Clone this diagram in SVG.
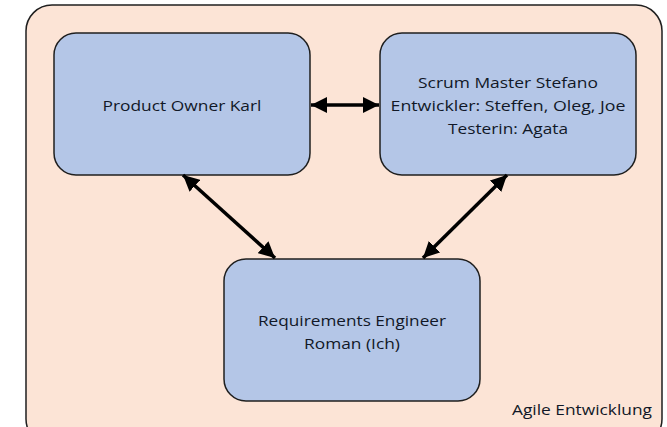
<svg xmlns="http://www.w3.org/2000/svg" width="667" height="427" viewBox="0 0 667 427">
<defs>
<marker id="ah" viewBox="0 0 10 10" refX="10" refY="5" markerWidth="4.6" markerHeight="4.6" orient="auto-start-reverse" markerUnits="strokeWidth">
<path d="M0,0 L10,5 L0,10 z" fill="#000"/>
</marker>
</defs>
<style>
.node{fill:#B4C6E7;stroke:#1f1f1f;stroke-width:1.5}
.t{font-family:"Open Sans","Liberation Sans",Arial,sans-serif;font-size:15px;fill:#111827;text-anchor:middle}
.c{stroke:#000;stroke-width:3.5;fill:none;marker-start:url(#ah);marker-end:url(#ah)}
</style>
<rect width="667" height="427" fill="#fff"/>
<g id="container">
<rect x="26" y="5" width="636" height="440" rx="26" fill="#FCE4D6" stroke="#1f1f1f" stroke-width="1.5"/>
<text x="652" y="415" class="t" style="text-anchor:end" textLength="140" lengthAdjust="spacingAndGlyphs">Agile Entwicklung</text>
</g>
<g id="po">
<rect class="node" x="54" y="33" width="256" height="142" rx="22"/>
<text class="t" x="182" y="111" textLength="159" lengthAdjust="spacingAndGlyphs">Product Owner Karl</text>
</g>
<g id="scrum">
<rect class="node" x="380" y="33" width="256" height="142" rx="22"/>
<text class="t" x="508" y="88" textLength="180" lengthAdjust="spacingAndGlyphs">Scrum Master Stefano</text>
<text class="t" x="508" y="111" textLength="235" lengthAdjust="spacingAndGlyphs">Entwickler: Steffen, Oleg, Joe</text>
<text class="t" x="508" y="134" textLength="120" lengthAdjust="spacingAndGlyphs">Testerin: Agata</text>
</g>
<g id="re">
<rect class="node" x="224" y="259" width="256" height="142" rx="22"/>
<text class="t" x="352" y="326" textLength="188" lengthAdjust="spacingAndGlyphs">Requirements Engineer</text>
<text class="t" x="352" y="349" textLength="96" lengthAdjust="spacingAndGlyphs">Roman (Ich)</text>
</g>
<g id="connectors">
<line class="c" x1="311" y1="105" x2="379" y2="105"/>
<line class="c" x1="183" y1="175" x2="275" y2="258"/>
<line class="c" x1="507" y1="175" x2="423" y2="258"/>
</g>
</svg>
